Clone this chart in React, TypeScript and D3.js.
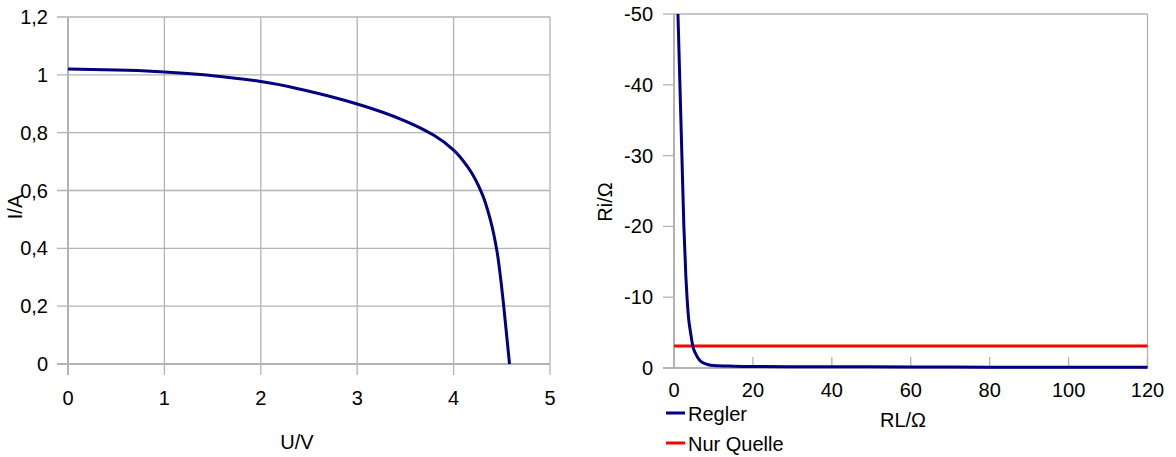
import React from "react";
import * as d3 from "d3";

// Kennlinie der Quelle: Spannung U in V, Strom I in A
const kennlinieU = [0, 0.5, 1, 1.5, 2, 2.5, 3, 3.5, 3.8, 4, 4.15, 4.3, 4.38, 4.45, 4.49, 4.52, 4.58];
const kennlinieI = [1.02, 1.017, 1.01, 0.997, 0.977, 0.943, 0.899, 0.84, 0.79, 0.74, 0.68, 0.585, 0.5, 0.39, 0.29, 0.2, 0];

// Innenwiderstand Ri abhängig vom Lastwiderstand RL
const reglerRL = [1.0, 1.5, 2.0, 2.5, 3.0, 3.3, 3.7, 4.2, 4.8, 5.5, 6.5, 7.5, 8.5, 10, 15, 20, 40, 60, 80, 100, 120];
const reglerRi = [-50, -40, -30, -20, -13, -10, -7, -5, -3, -2, -1.1, -0.7, -0.5, -0.35, -0.25, -0.2, -0.17, -0.15, -0.12, -0.1, -0.1];
const quelleRL = [0, 120];
const quelleRi = [-3.1, -3.1];

const leftXTicks = [0, 1, 2, 3, 4, 5];
const leftYTicks = [0, 0.2, 0.4, 0.6, 0.8, 1.0, 1.2];
const rightXTicks = [0, 20, 40, 60, 80, 100, 120];
const rightYTicks = [0, -10, -20, -30, -40, -50];

const legendNames = ["Regler", "Nur Quelle"];
const NAVY = "#000080";
const RED = "#ff0000";
const GRID = "#b3b3b3";
const FONT = "'Liberation Sans', Arial, sans-serif";

const fmt = (v: number) => String(v).replace(".", ",");

export default function App() {
  // Left panel scales
  const lx = d3.scaleLinear().domain([0, 5]).range([68, 550]);
  const ly = d3.scaleLinear().domain([0, 1.2]).range([364, 17]);
  // Right panel scales (Ri axis runs from 0 at bottom to -50 at top)
  const rx = d3.scaleLinear().domain([0, 120]).range([674, 1147.5]);
  const ry = d3.scaleLinear().domain([0, -50]).range([368, 14]);

  const leftLine = d3
    .line<number>()
    .x((_, i) => lx(kennlinieU[i]))
    .y((d) => ly(d))
    .curve(d3.curveMonotoneY);

  const rightLine = d3
    .line<number>()
    .x((_, i) => rx(reglerRL[i]))
    .y((d) => ry(d))
    .curve(d3.curveMonotoneX);

  const quelleLine = d3
    .line<number>()
    .x((_, i) => rx(quelleRL[i]))
    .y((d) => ry(d));

  const textStyle = { fontFamily: FONT, fontSize: 20, fill: "#000" };

  return (
    <svg width={1176} height={457} style={{ position: "absolute", left: 0, top: 0 }}>
      <rect width={1176} height={457} fill="#fff" />

      {/* Left panel: grid */}
      <g>
        {leftXTicks.map((t) => (
          <line key={"gx" + t} x1={lx(t)} x2={lx(t)} y1={ly(1.2)} y2={ly(0) + 11} stroke={GRID} strokeWidth={1.3} />
        ))}
        {leftYTicks.map((t) => (
          <line key={"gy" + t} x1={lx(0) - 11} x2={lx(5)} y1={ly(t)} y2={ly(t)} stroke={GRID} strokeWidth={1.3} />
        ))}
        <line x1={lx(0)} x2={lx(0)} y1={ly(1.2)} y2={ly(0) + 11} stroke={GRID} strokeWidth={2} />
        <line x1={lx(0) - 11} x2={lx(5)} y1={ly(0)} y2={ly(0)} stroke={GRID} strokeWidth={2} />
        {leftXTicks.map((t) => (
          <text key={"lx" + t} x={lx(t)} y={405} textAnchor="middle" {...textStyle}>
            {fmt(t)}
          </text>
        ))}
        {leftYTicks.map((t) => (
          <text key={"ly" + t} x={48} y={ly(t) + 7} textAnchor="end" {...textStyle}>
            {fmt(t)}
          </text>
        ))}
        <path d={leftLine(kennlinieI) || ""} fill="none" stroke={NAVY} strokeWidth={3} />
        <text x={297} y={449} textAnchor="middle" {...textStyle}>U/V</text>
        <text transform="translate(22,207) rotate(-90)" textAnchor="middle" {...textStyle}>I/A</text>
      </g>

      {/* Right panel */}
      <g>
        <line x1={rx(0)} x2={rx(120)} y1={ry(-50)} y2={ry(-50)} stroke={GRID} strokeWidth={1.3} />
        <line x1={rx(120)} x2={rx(120)} y1={ry(-50)} y2={ry(0)} stroke={GRID} strokeWidth={1.3} />
        {rightYTicks.map((t) => (
          <line key={"ryt" + t} x1={rx(0) - 11} x2={rx(0)} y1={ry(t)} y2={ry(t)} stroke={GRID} strokeWidth={1.3} />
        ))}
        {rightXTicks.map((t) => (
          <line key={"rxt" + t} x1={rx(t)} x2={rx(t)} y1={ry(0) - 11} y2={ry(0)} stroke={GRID} strokeWidth={1.3} />
        ))}
        <line x1={rx(0)} x2={rx(0)} y1={ry(-50)} y2={ry(0)} stroke={GRID} strokeWidth={2} />
        <line x1={rx(0) - 11} x2={rx(120)} y1={ry(0)} y2={ry(0)} stroke={GRID} strokeWidth={2} />
        {rightXTicks.map((t) => (
          <text key={"rx" + t} x={rx(t)} y={397} textAnchor="middle" {...textStyle}>
            {t}
          </text>
        ))}
        {rightYTicks.map((t) => (
          <text key={"ry" + t} x={653} y={ry(t) + 7} textAnchor="end" {...textStyle}>
            {t}
          </text>
        ))}
        <path d={quelleLine(quelleRi) || ""} fill="none" stroke={RED} strokeWidth={3} />
        <path d={rightLine(reglerRi) || ""} fill="none" stroke={NAVY} strokeWidth={3} />
        <text x={903} y={427} textAnchor="middle" {...textStyle}>RL/Ω</text>
        <text transform="translate(612,202) rotate(-90)" textAnchor="middle" {...textStyle}>Ri/Ω</text>

        {/* Legend */}
        {legendNames.map((name, i) => (
          <g key={name} transform={`translate(0,${i * 30})`}>
            <line x1={666} x2={685} y1={413} y2={413} stroke={i === 0 ? NAVY : RED} strokeWidth={3} />
            <text x={688} y={421} {...textStyle}>
              {name}
            </text>
          </g>
        ))}
      </g>
    </svg>
  );
}
